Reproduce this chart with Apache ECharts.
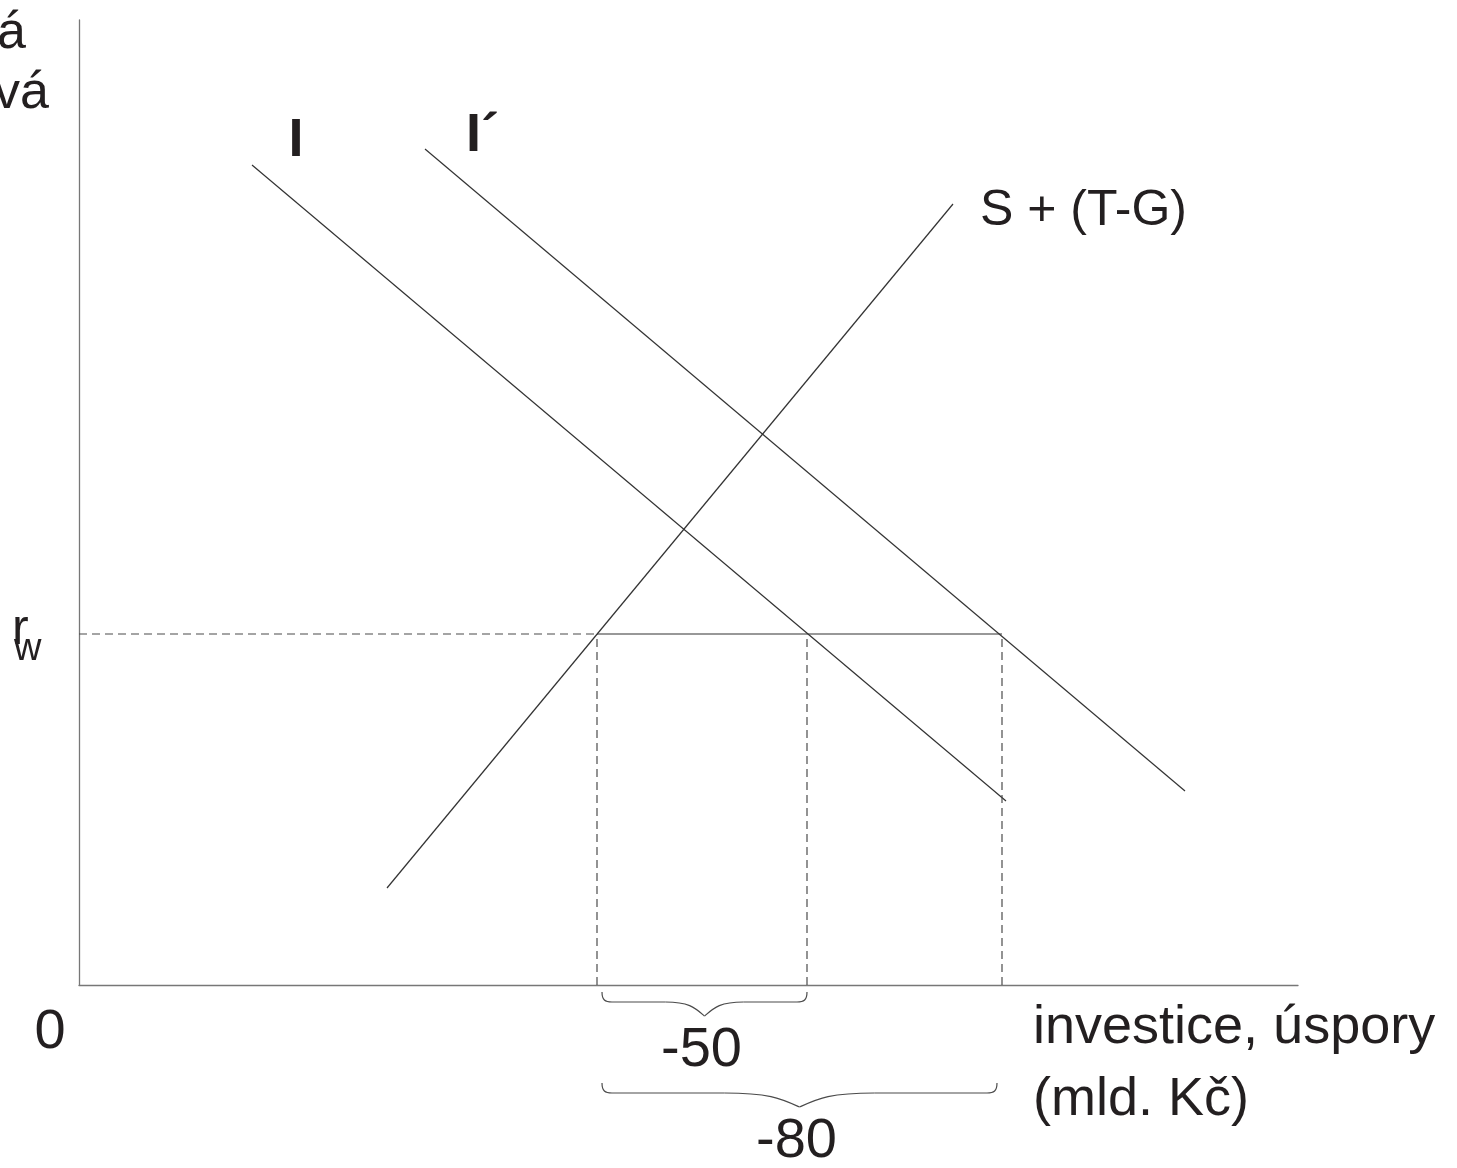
<!DOCTYPE html>
<html>
<head>
<meta charset="utf-8">
<title>I, I´, S + (T-G)</title>
<style>
    html, body { margin: 0; padding: 0; background: #fff; }
    #chart { width: 1457px; height: 1168px; }
</style>
<script src="https://cdn.jsdelivr.net/npm/echarts@6.0.0/dist/echarts.min.js"></script>
</head>
<body>
<div id="chart"></div>
<script>
'use strict';

// data, in abstract units (x 0..121.9, y 0..96.5)
var curveI = [[17.3, 82.0], [92.7, 18.4]];
var curveIPrime = [[34.6, 83.6], [110.6, 19.4]];
var curveS = [[30.8, 9.7], [87.4, 78.1]];
var rateW = 35.1;
// S + (T-G), I and I´ at r_w
var quantities = [51.8, 72.8, 92.3];
// [from, to, level] of the braces under the axis
var braceSpans = [[52.3, 72.8, -0.7], [52.3, 91.8, -9.8]];
var braceLabels = ['-50', '-80'];

var FONT = '"Liberation Sans", Arial, sans-serif';
var INK = '#231f20';
var LINE = '#333';

var chart = echarts.init(document.getElementById('chart'));

function segment(data, dashed) {
    return {
        type: 'line',
        data: data,
        symbol: 'none',
        silent: true,
        animation: false,
        lineStyle: {
            color: dashed ? '#4a4a4a' : LINE,
            width: 1.2,
            type: dashed ? [8, 5] : 'solid'
        }
    };
}

function label(text, x, y, size, align, weight) {
    return {
        type: 'text',
        x: x,
        y: y,
        silent: true,
        style: {
            text: text,
            fill: INK,
            font: (weight || 'normal') + ' ' + size + 'px ' + FONT,
            align: align || 'left',
            verticalAlign: 'middle'
        }
    };
}

// 花括号
function renderBrace(params, api) {
    var left = api.coord([api.value(0), api.value(2)]);
    var right = api.coord([api.value(1), api.value(2)]);
    var xL = left[0];
    var xR = right[0];
    var yT = left[1];
    var xm = (xL + xR) / 2;
    var h = 10;
    var tip = 14;
    var w = (xR - xL) * 0.19;
    var yH = yT + h;
    var yTip = yH + tip;
    var style = { stroke: '#4a4a4a', lineWidth: 1.2, fill: null };

    function curve(x1, y1, cx1, cy1, cx2, cy2, x2, y2) {
        return {
            type: 'bezierCurve',
            shape: { x1: x1, y1: y1, cpx1: cx1, cpy1: cy1, cpx2: cx2, cpy2: cy2, x2: x2, y2: y2 },
            style: style
        };
    }

    function line(x1, y1, x2, y2) {
        return { type: 'line', shape: { x1: x1, y1: y1, x2: x2, y2: y2 }, style: style };
    }

    return {
        type: 'group',
        children: [
            curve(xL, yT, xL, yT + h * 0.8, xL + 3, yH, xL + 10, yH),
            line(xL + 10, yH, xm - w, yH),
            curve(xm - w, yH, xm - w * 0.4, yH, xm - w * 0.25, yH + tip * 0.4, xm, yTip),
            curve(xR, yT, xR, yT + h * 0.8, xR - 3, yH, xR - 10, yH),
            line(xR - 10, yH, xm + w, yH),
            curve(xm + w, yH, xm + w * 0.4, yH, xm + w * 0.25, yH + tip * 0.4, xm, yTip),
            {
                type: 'text',
                x: xm - 3,
                y: yT + 59,
                style: {
                    text: braceLabels[params.dataIndex],
                    fill: INK,
                    font: '56px ' + FONT,
                    align: 'center',
                    verticalAlign: 'middle'
                }
            }
        ]
    };
}

var series = [
    segment(curveI),
    segment(curveIPrime),
    segment(curveS),
    segment([[0, rateW], [quantities[0], rateW]], true),
    segment([[quantities[0], rateW], [quantities[2], rateW]])
];

quantities.forEach(function (q) {
    series.push(segment([[q, 0], [q, rateW]], true));
});

series.push({
    type: 'custom',
    data: braceSpans,
    renderItem: renderBrace,
    clip: false,
    silent: true,
    animation: false,
    z: 5
});

chart.setOption({
    backgroundColor: '#fff',
    animation: false,
    grid: { left: 79, top: 20, width: 1219, height: 965 },
    xAxis: {
        type: 'value',
        min: 0,
        max: 121.9,
        axisLine: { show: true, lineStyle: { color: '#777', width: 1.3 } },
        axisTick: { show: false },
        axisLabel: { show: false },
        splitLine: { show: false }
    },
    yAxis: {
        type: 'value',
        min: 0,
        max: 96.5,
        axisLine: { show: true, lineStyle: { color: '#777', width: 1.3 } },
        axisTick: { show: false },
        axisLabel: { show: false },
        splitLine: { show: false }
    },
    series: series,
    graphic: [
        label('á', 26, 34, 52, 'right'),
        label('vá', 49, 94, 52, 'right'),
        label('I', 296, 141, 54, 'center', 'bold'),
        label('I´', 466, 136, 54, 'left', 'bold'),
        label('S + (T-G)', 980, 211, 50),
        label('r', 12, 630, 50),
        label('w', 14, 650, 38),
        label('0', 50, 1033, 56, 'center'),
        label('investice, úspory', 1033, 1028, 54),
        label('(mld. Kč)', 1033, 1100, 54)
    ]
});
</script>
</body>
</html>
